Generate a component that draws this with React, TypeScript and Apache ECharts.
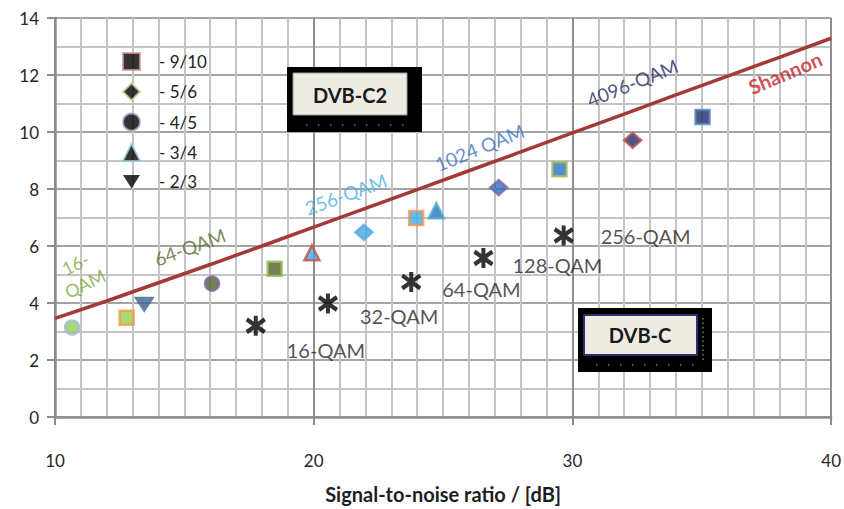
import React, { useEffect, useRef } from 'react';
import * as echarts from 'echarts';

// ---------- data ----------
const xTicks = [10, 20, 30, 40];
const yTicks = [0, 2, 4, 6, 8, 10, 12, 14];

const shannonSnr = [10, 12, 14, 16, 18, 20, 22, 24, 26, 28, 30, 32, 34, 36, 38, 40];
const shannonCapacity = [3.46, 4.07, 4.71, 5.35, 6.0, 6.66, 7.32, 7.98, 8.64, 9.3, 9.97, 10.63, 11.3, 11.96, 12.62, 13.29];

const rate910Mod = ['16-QAM', '64-QAM', '256-QAM', '1024-QAM', '4096-QAM'];
const rate910Snr = [12.77, 18.49, 23.96, 29.5, 35.03];
const rate910Eff = [3.48, 5.2, 6.98, 8.69, 10.53];

const rate56Mod = ['256-QAM', '1024-QAM', '4096-QAM'];
const rate56Snr = [21.94, 27.15, 32.33];
const rate56Eff = [6.48, 8.05, 9.71];

const rate45Mod = ['16-QAM', '64-QAM'];
const rate45Snr = [10.66, 16.07];
const rate45Eff = [3.14, 4.68];

const rate34Mod = ['256-QAM', '1024-QAM'];
const rate34Snr = [19.93, 24.74];
const rate34Eff = [5.76, 7.24];

const rate23Mod = ['64-QAM'];
const rate23Snr = [13.45];
const rate23Eff = [3.94];

const dvbcMod = ['16-QAM', '32-QAM', '64-QAM', '128-QAM', '256-QAM'];
const dvbcSnr = [17.76, 20.55, 23.77, 26.56, 29.66];
const dvbcEff = [3.2, 3.98, 4.74, 5.58, 6.37];

const annotationText = ['16-\nQAM', '64-QAM', '256-QAM', '1024 QAM', '4096-QAM', 'Shannon'];
const annotationSnr = [10.97, 15.21, 21.24, 26.41, 32.32, 38.22];
const annotationEff = [5.03, 5.97, 7.82, 9.46, 11.73, 12.08];

// ---------- styles ----------
const FONT = 'Lato, "Open Sans", sans-serif';
const modFill: Record<string, string> = {
  '16-QAM': '#92D050',
  '64-QAM': '#4F6228',
  '256-QAM': '#3FAAE6',
  '1024-QAM': '#2C6FC4',
  '4096-QAM': '#1F2A6B',
};
const border910 = ['#F79646', '#9BBB59', '#F79646', '#9BBB59', '#4F81BD'];
const border56 = ['#5BA7E6', '#8064A2', '#C0504D'];
const border45 = ['#A6B9E0', '#8064A2'];
const border34 = ['#C0504D', '#4BACC6'];
const fill23 = ['#3B6394'];
const dvbcLabelOffset = [[31, 24], [32, 12], [31, 7], [29, 7], [37, 1]];
const annotationColor = ['#7AAA3C', '#566B2E', '#47B1E6', '#3A70C4', '#222A62', '#C0262D'];
const annotationRotate = [26, 20, 20, 22, 22, 23];
const annotationWeight = ['normal', 'normal', 'normal', 'normal', 'normal', 'bold'];
const annotationSize = [18, 19, 19, 19, 19, 20];

function pts(mods: string[], xs: number[], ys: number[], borders: string[] | null, fills?: string[]) {
  return xs.map((x, i) => ({
    name: mods[i],
    value: [x, ys[i]],
    itemStyle: {
      color: fills ? fills[i] : modFill[mods[i]],
      borderColor: borders ? borders[i] : 'transparent',
      borderWidth: borders ? 2.5 : 0,
    },
  }));
}

export default function App() {
  const ref = useRef<HTMLDivElement>(null);
  useEffect(() => {
    if (!ref.current) return;
    const chart = echarts.init(ref.current, undefined, { renderer: 'svg' });
    const invTri = 'path://M0 0L10 0L5 8Z';
    const asterisk = 'path://M5 0L5 10M0.8 1.8L9.2 8.2M0.8 8.2L9.2 1.8';
    chart.setOption({
      animation: false,
      backgroundColor: '#ffffff',
      grid: { left: 55, right: 12, top: 18, bottom: 90, containLabel: false },
      xAxis: {
        type: 'value',
        min: 10,
        max: 40,
        interval: 10,
        name: 'Signal-to-noise ratio / [dB]',
        nameLocation: 'middle',
        nameGap: 67,
        nameTextStyle: { fontFamily: FONT, fontSize: 20, color: '#1E1E1E', fontWeight: 'bold' },
        axisLine: { show: true, onZero: false, lineStyle: { color: '#8C8C8C', width: 2.5 } },
        axisTick: { show: true, length: 8, lineStyle: { color: '#8C8C8C', width: 2 } },
        axisLabel: {
          margin: 35,
          fontFamily: FONT,
          fontSize: 17,
          color: '#262626',
          formatter: (v: number) => (xTicks.includes(v) ? String(v) : ''),
        },
        splitLine: { show: true, lineStyle: { color: '#8E8E8E', width: 2 } },
        minorTick: { show: false, splitNumber: 10 },
        minorSplitLine: { show: true, lineStyle: { color: '#C4C4C4', width: 2 } },
      },
      yAxis: {
        type: 'value',
        min: 0,
        max: 14,
        interval: 2,
        axisLine: { show: true, onZero: false, lineStyle: { color: '#8C8C8C', width: 2.5 } },
        axisTick: { show: true, length: 8, lineStyle: { color: '#8C8C8C', width: 2 } },
        axisLabel: {
          margin: 16,
          fontFamily: FONT,
          fontSize: 17,
          color: '#262626',
          formatter: (v: number) => (yTicks.includes(v) ? String(v) : ''),
        },
        splitLine: { show: true, lineStyle: { color: '#A4A4A4', width: 2 } },
        minorTick: { show: false, splitNumber: 2 },
        minorSplitLine: { show: true, lineStyle: { color: '#C4C4C4', width: 2 } },
      },
      legend: {
        data: ['9/10', '5/6', '4/5', '3/4', '2/3'],
        orient: 'vertical',
        left: 117,
        top: 47,
        itemWidth: 17,
        itemHeight: 17,
        itemGap: 11.3,
        selectedMode: false,
        formatter: (n: string) => '- ' + n,
        textStyle: { fontFamily: FONT, fontSize: 17, color: '#222', lineHeight: 17, padding: [0, 0, 0, 14] },
      },
      series: [
        {
          name: 'Shannon',
          type: 'line',
          data: shannonSnr.map((x, i) => [x, shannonCapacity[i]]),
          showSymbol: false,
          symbol: 'none',
          lineStyle: { color: '#A33A38', width: 3.5 },
          z: 3,
        },
        {
          name: '9/10',
          type: 'scatter',
          symbol: 'rect',
          symbolSize: 14,
          itemStyle: { color: '#000', borderColor: '#D99694', borderWidth: 2.5 },
          data: pts(rate910Mod, rate910Snr, rate910Eff, border910),
          z: 4,
        },
        {
          name: '5/6',
          type: 'scatter',
          symbol: 'diamond',
          symbolSize: [17, 15],
          itemStyle: { color: '#000', borderColor: '#C3D69B', borderWidth: 2.5 },
          data: pts(rate56Mod, rate56Snr, rate56Eff, border56),
          z: 4,
        },
        {
          name: '4/5',
          type: 'scatter',
          symbol: 'circle',
          symbolSize: 14,
          itemStyle: { color: '#000', borderColor: '#B3A2C7', borderWidth: 2.5 },
          data: pts(rate45Mod, rate45Snr, rate45Eff, border45),
          z: 4,
        },
        {
          name: '3/4',
          type: 'scatter',
          symbol: 'triangle',
          symbolSize: 15,
          itemStyle: { color: '#000', borderColor: '#93CDDD', borderWidth: 2.5 },
          data: pts(rate34Mod, rate34Snr, rate34Eff, border34),
          z: 4,
        },
        {
          name: '2/3',
          type: 'scatter',
          symbol: invTri,
          symbolSize: [21, 16],
          itemStyle: { color: '#000' },
          data: pts(rate23Mod, rate23Snr, rate23Eff, null, fill23),
          z: 4,
        },
        {
          name: 'DVB-C',
          type: 'scatter',
          symbol: asterisk,
          symbolSize: [18, 20],
          itemStyle: { color: '#000', borderColor: '#000', borderWidth: 4.2 },
          data: dvbcSnr.map((x, i) => ({
            name: dvbcMod[i],
            value: [x, dvbcEff[i]],
            label: {
              show: true,
              formatter: dvbcMod[i],
              position: 'inside',
              align: 'left',
              verticalAlign: 'middle',
              offset: dvbcLabelOffset[i],
              fontFamily: FONT,
              fontSize: 20,
              color: '#262626',
            },
          })),
          z: 4,
        },
        {
          name: 'annotations',
          type: 'scatter',
          symbolSize: 0,
          itemStyle: { color: 'transparent' },
          silent: true,
          data: annotationSnr.map((x, i) => ({
            name: annotationText[i],
            value: [x, annotationEff[i]],
            label: {
              show: true,
              formatter: annotationText[i],
              position: 'inside',
              align: 'center',
              verticalAlign: 'middle',
              rotate: annotationRotate[i],
              fontFamily: FONT,
              fontSize: annotationSize[i],
              lineHeight: 22,
              fontWeight: annotationWeight[i],
              color: annotationColor[i],
            },
          })),
          z: 5,
        },
      ],
      graphic: [
        { type: 'rect', shape: { x: 287, y: 67, width: 135, height: 65 }, style: { fill: '#000' }, z: 10 },
        { type: 'rect', shape: { x: 293, y: 73, width: 114, height: 42 }, style: { fill: '#EEECE2', stroke: '#9A9A9A', lineWidth: 1 }, z: 11 },
        { type: 'line', shape: { x1: 306, y1: 125, x2: 410, y2: 125 }, style: { stroke: '#777', lineWidth: 1.5, lineDash: [1.5, 10.5] }, z: 11 },
        { type: 'text', x: 350, y: 95, style: { text: 'DVB-C2', font: `bold 20px ${FONT}`, fill: '#1A1A1A', align: 'center', verticalAlign: 'middle' }, z: 12 },
        { type: 'rect', shape: { x: 578, y: 308, width: 134, height: 64 }, style: { fill: '#000' }, z: 10 },
        { type: 'rect', shape: { x: 584, y: 315, width: 113, height: 40 }, style: { fill: '#EEECE2', stroke: '#2E2F6E', lineWidth: 2 }, z: 11 },
        { type: 'line', shape: { x1: 596, y1: 365, x2: 700, y2: 365 }, style: { stroke: '#777', lineWidth: 1.5, lineDash: [1.5, 10.5] }, z: 11 },
        { type: 'line', shape: { x1: 703, y1: 318, x2: 703, y2: 360 }, style: { stroke: '#777', lineWidth: 1.5, lineDash: [1.5, 3] }, z: 11 },
        { type: 'text', x: 640, y: 335, style: { text: 'DVB-C', font: `bold 20px ${FONT}`, fill: '#1A1A1A', align: 'center', verticalAlign: 'middle' }, z: 12 },
      ],
    });
    return () => chart.dispose();
  }, []);
  return <div ref={ref} style={{ width: 844, height: 509, position: 'absolute', left: 0, top: 0 }} />;
}
